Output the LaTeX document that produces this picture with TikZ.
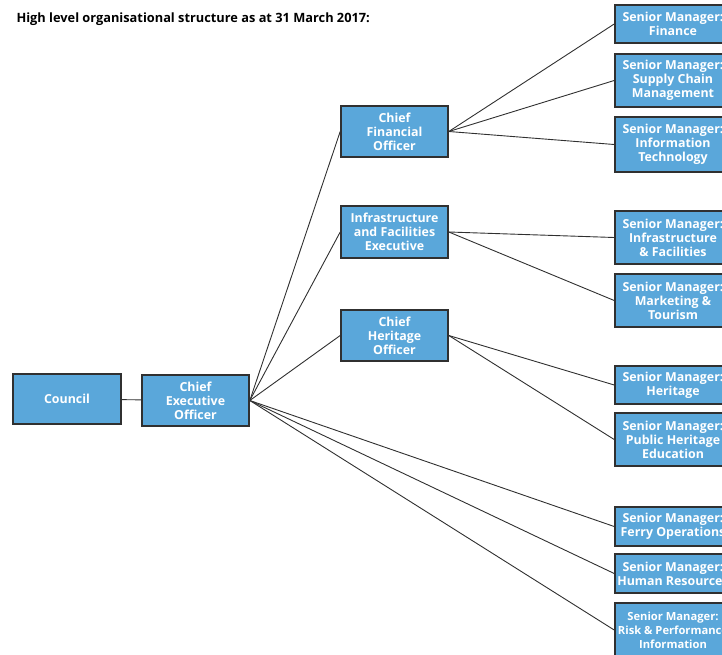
\documentclass[tikz,border=0pt]{standalone}
\usepackage{fontspec}
\setmainfont{Open Sans}
\definecolor{boxblue}{HTML}{5AA7DA}
\definecolor{edgegrey}{HTML}{303030}
\begin{document}
\begin{tikzpicture}[x=1pt,y=-1pt,
  box/.style={draw=edgegrey, line width=1.6pt, fill=boxblue, text=white,
    font=\bfseries\fontsize{12.4}{14}\selectfont, align=center, inner sep=0pt},
  rbox/.style={box, minimum width=116pt},
  mbox/.style={box, minimum width=107pt},
  link/.style={draw=edgegrey, line width=0.9pt}]
\useasboundingbox (0,0) rectangle (722,655);
\clip (0,0) rectangle (722,655);

\node[anchor=west, text=black, font=\bfseries\fontsize{12.8}{15}\selectfont] (title) at (13,19) {High level organisational structure as at 31 March 2017:};

\node[box, minimum width=108pt, minimum height=50pt] (council) at (67,399) {Council};
\node[mbox, minimum height=51pt] (ceo) at (195.5,400.5) {Chief\\Executive\\Officer};
\node[mbox, minimum height=51pt] (cfo) at (394.5,131.5) {Chief\\Financial\\Officer};
\node[mbox, minimum height=52pt] (ife) at (394.5,232) {Infrastructure\\and Facilities\\Executive};
\node[mbox, minimum height=51pt] (cho) at (394.5,335.5) {Chief\\Heritage\\Officer};

\node[rbox, minimum height=38pt] (fin) at (673,24) {Senior Manager:\\Finance};
\node[rbox, minimum height=53pt] (scm) at (673,80.5) {Senior Manager:\\Supply Chain\\Management};
\node[rbox, minimum height=55pt] (it) at (673,144.5) {Senior Manager:\\Information\\Technology};
\node[rbox, minimum height=53pt] (inf) at (673,237.5) {Senior Manager:\\Infrastructure\\\& Facilities};
\node[rbox, minimum height=53pt] (mkt) at (673,300.5) {Senior Manager:\\Marketing \&\\Tourism};
\node[rbox, minimum height=38pt] (her) at (673,385) {Senior Manager:\\Heritage};
\node[rbox, minimum height=53pt] (phe) at (673,439.5) {Senior Manager:\\Public Heritage\\Education};
\node[rbox, minimum height=39pt] (fer) at (673,526.5) {Senior Manager:\\Ferry Operations};
\node[rbox, minimum height=39pt] (hr) at (673,573.5) {Senior Manager:\\Human Resources};
\node[rbox, minimum height=54pt, font=\bfseries\fontsize{11.2}{14}\selectfont] (risk) at (673,630) {Senior Manager:\\Risk \& Performance\\Information};

\draw[link] (council) -- (ceo);
\foreach \t in {cfo,ife,cho,fer,hr,risk} \draw[link] (ceo.east) -- (\t.west);
\foreach \t in {fin,scm,it} \draw[link] (cfo.east) -- (\t.west);
\foreach \t in {inf,mkt} \draw[link] (ife.east) -- (\t.west);
\foreach \t in {her,phe} \draw[link] (cho.east) -- (\t.west);
\end{tikzpicture}
\end{document}
